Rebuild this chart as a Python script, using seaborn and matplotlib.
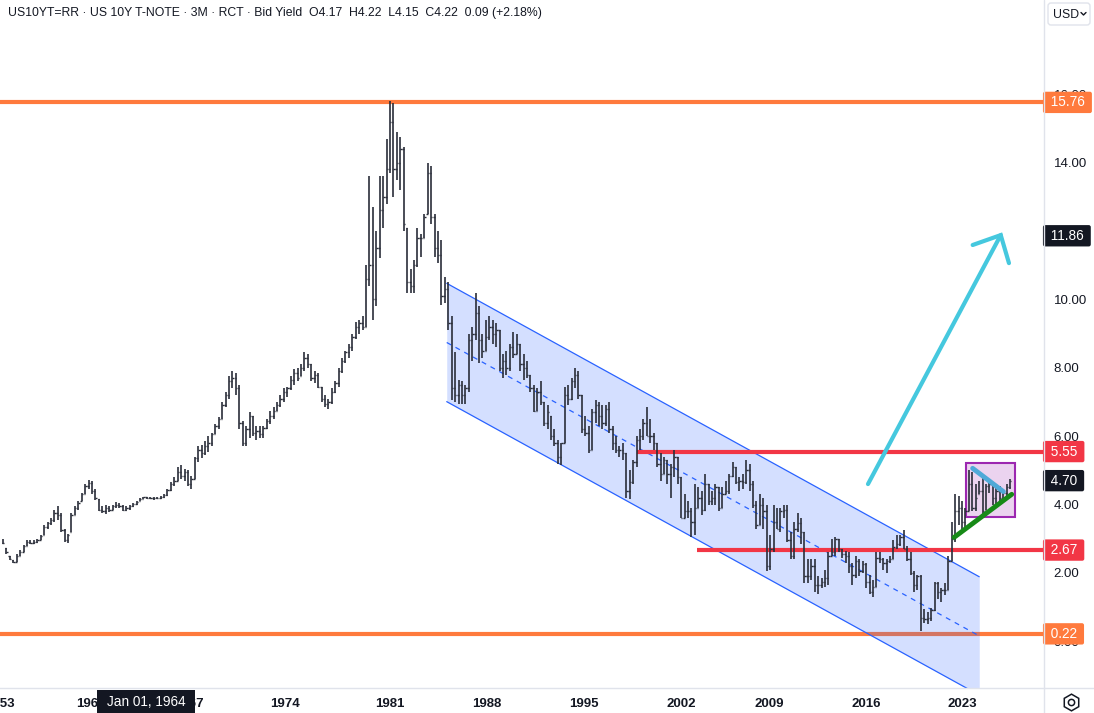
import matplotlib
matplotlib.use("Agg")
import matplotlib.pyplot as plt
import seaborn as sns
import numpy as np
from matplotlib.patches import Rectangle, FancyBboxPatch

# quarterly bars (high / low / close), first bar at 1952.75
start_year = 1952.75
step = 0.25

highs = [
    3.0, 2.72, 2.5, 2.38, 2.55, 2.68, 2.82, 2.96,
    2.95, 2.96, 3.0, 3.12, 3.4, 3.5, 3.6, 3.85,
    3.96, 3.75, 3.3, 3.15, 3.75, 3.95, 4.1, 4.35,
    4.6, 4.72, 4.68, 4.45, 4.15, 3.95, 4.0, 3.95,
    4.0, 4.08, 4.05, 4.0, 3.95, 4.0, 4.05, 4.1,
    4.18, 4.22, 4.22, 4.22, 4.22, 4.23, 4.24, 4.3,
    4.45, 4.65, 4.8, 5.1, 5.15, 5.05, 5.0, 4.85,
    5.4, 5.7, 5.75, 5.85, 6.0, 6.1, 6.35, 6.55,
    7.0, 7.3, 7.75, 7.9, 7.85, 7.5, 6.45, 6.3,
    6.7, 6.6, 6.3, 6.3, 6.3, 6.5, 6.75, 6.85,
    7.0, 7.2, 7.4, 7.45, 7.75, 7.95, 8.0, 8.1,
    8.45, 8.4, 8.1, 7.9, 7.85, 7.45, 7.2, 7.1,
    7.4, 7.6, 8.0, 8.3, 8.5, 8.7, 9.0, 9.35,
    9.4, 9.5, 11.0, 13.6, 12.7, 12.0, 13.6, 13.6,
    14.7, 15.8, 15.75, 14.9, 14.75, 14.45, 12.1, 10.9,
    11.15, 12.1, 11.9, 12.5, 14.0, 13.9, 12.5, 12.0,
    11.75, 10.65, 10.5, 9.5, 8.45, 7.65, 7.6, 7.5,
    9.0, 9.2, 10.2, 9.8, 9.0, 9.4, 9.5, 9.4,
    9.3, 9.1, 8.4, 8.5, 8.7, 9.05, 9.0, 8.7,
    8.4, 8.2, 7.8, 7.5, 7.4, 7.6, 7.0, 6.9,
    6.6, 6.2, 5.9, 5.8, 7.45, 7.5, 7.7, 8.0,
    7.9, 7.2, 6.6, 6.3, 6.8, 7.05, 7.0, 6.9,
    6.9, 7.0, 6.3, 6.0, 5.7, 5.8, 5.5, 5.0,
    5.3, 6.0, 6.2, 6.5, 6.85, 6.5, 6.1, 5.8,
    5.5, 5.4, 5.3, 5.2, 5.6, 5.4, 4.8, 4.3,
    4.1, 3.9, 4.6, 4.5, 4.4, 4.9, 4.6, 4.4,
    4.6, 4.5, 4.5, 4.7, 4.9, 5.25, 5.1, 4.8,
    4.9, 5.3, 5.2, 4.7, 4.1, 4.3, 4.2, 4.0,
    3.1, 4.0, 3.9, 3.9, 4.0, 4.0, 3.2, 3.5,
    3.75, 3.6, 3.2, 2.4, 2.4, 2.4, 1.9, 1.85,
    2.1, 2.6, 3.0, 3.05, 3.0, 2.7, 2.65, 2.6,
    2.3, 2.5, 2.4, 2.35, 2.3, 1.95, 1.8, 2.6,
    2.6, 2.45, 2.4, 2.5, 2.95, 3.1, 3.1, 3.25,
    2.8, 2.6, 2.05, 1.95, 1.95, 0.95, 0.85, 0.98,
    1.75, 1.75, 1.55, 1.7, 2.5, 3.5, 4.3, 4.25,
    4.1, 3.9, 5.0, 4.95, 4.6, 4.7, 4.85, 4.6,
    4.65, 4.6, 4.5, 4.55, 4.45, 4.6, 4.75,
]
lows = [
    2.85, 2.55, 2.38, 2.29, 2.32, 2.5, 2.62, 2.78,
    2.84, 2.84, 2.88, 2.97, 3.1, 3.3, 3.4, 3.5,
    3.55, 3.2, 2.9, 2.88, 3.2, 3.7, 3.85, 4.1,
    4.3, 4.45, 4.3, 4.12, 3.8, 3.75, 3.72, 3.78,
    3.85, 3.9, 3.9, 3.82, 3.8, 3.85, 3.92, 4.0,
    4.1, 4.15, 4.15, 4.15, 4.14, 4.16, 4.17, 4.2,
    4.25, 4.4, 4.55, 4.7, 4.75, 4.7, 4.55, 4.45,
    4.75, 5.25, 5.35, 5.45, 5.55, 5.7, 6.05, 6.2,
    6.5, 6.85, 7.1, 7.4, 7.2, 6.2, 5.7, 5.7,
    5.95, 6.0, 5.9, 5.95, 5.95, 6.2, 6.35, 6.5,
    6.75, 6.85, 7.0, 7.15, 7.35, 7.5, 7.6, 7.75,
    7.9, 8.0, 7.6, 7.55, 7.4, 7.0, 6.85, 6.8,
    6.95, 7.25, 7.45, 7.85, 8.15, 8.3, 8.5, 8.85,
    9.0, 9.1, 9.2, 10.4, 9.4, 9.8, 11.2, 12.1,
    12.8, 13.7, 13.0, 13.5, 13.2, 12.0, 10.2, 10.2,
    10.2, 10.95, 11.25, 11.8, 12.5, 12.2, 11.25, 11.05,
    9.85, 9.9, 9.1, 7.05, 7.0, 6.95, 6.95, 6.95,
    7.3, 8.2, 8.8, 8.15, 8.3, 8.5, 8.8, 8.7,
    8.6, 7.9, 7.7, 7.8, 7.9, 8.3, 8.4, 7.9,
    7.65, 7.7, 7.3, 6.7, 6.75, 6.9, 6.3, 6.2,
    5.9, 5.7, 5.2, 5.15, 5.8, 6.9, 7.05, 7.4,
    7.1, 6.1, 6.0, 5.5, 5.6, 6.4, 6.3, 6.2,
    6.3, 6.1, 5.6, 5.5, 5.4, 5.3, 4.2, 4.15,
    4.6, 5.1, 5.6, 5.9, 6.0, 5.8, 5.6, 5.1,
    4.7, 4.9, 4.6, 4.2, 4.8, 4.6, 3.6, 3.6,
    3.6, 3.05, 3.1, 3.9, 3.7, 3.8, 4.0, 4.0,
    4.0, 3.8, 3.9, 4.3, 4.3, 4.8, 4.6, 4.4,
    4.45, 4.6, 4.4, 3.9, 3.3, 3.4, 3.3, 2.05,
    2.1, 2.6, 3.3, 3.2, 3.6, 2.9, 2.4, 2.4,
    3.2, 2.85, 1.7, 1.7, 1.8, 1.45, 1.4, 1.55,
    1.6, 1.65, 2.5, 2.5, 2.6, 2.45, 2.3, 2.0,
    1.65, 1.85, 1.9, 2.0, 1.55, 1.4, 1.3, 1.6,
    2.3, 2.1, 2.0, 2.3, 2.4, 2.7, 2.8, 2.7,
    2.35, 1.95, 1.45, 1.5, 0.3, 0.55, 0.5, 0.6,
    0.9, 1.25, 1.15, 1.35, 1.5, 2.35, 2.9, 3.4,
    3.3, 3.3, 3.8, 3.8, 3.8, 4.3, 3.7, 3.85,
    4.35, 4.0, 3.95, 4.1, 4.1, 4.2, 4.45,
]
closes = [
    2.88, 2.6, 2.42, 2.33, 2.5, 2.62, 2.78, 2.9,
    2.88, 2.9, 2.97, 3.08, 3.35, 3.45, 3.55, 3.75,
    3.7, 3.25, 2.95, 3.1, 3.7, 3.9, 4.05, 4.3,
    4.55, 4.62, 4.4, 4.2, 3.85, 3.8, 3.9, 3.85,
    3.95, 4.0, 3.95, 3.85, 3.9, 3.95, 4.02, 4.08,
    4.17, 4.22, 4.18, 4.2, 4.2, 4.2, 4.22, 4.28,
    4.42, 4.6, 4.7, 4.95, 4.85, 4.95, 4.6, 4.75,
    5.35, 5.6, 5.5, 5.7, 5.8, 6.05, 6.3, 6.5,
    6.9, 7.2, 7.6, 7.7, 7.4, 6.4, 5.8, 6.2,
    6.6, 6.1, 6.15, 6.05, 6.25, 6.45, 6.6, 6.75,
    6.9, 7.1, 7.3, 7.4, 7.65, 7.85, 7.7, 8.0,
    8.3, 8.1, 7.7, 7.8, 7.45, 7.1, 6.95, 7.0,
    7.3, 7.55, 7.9, 8.2, 8.45, 8.6, 8.9, 9.2,
    9.3, 9.2, 10.6, 11.0, 10.0, 11.5, 12.6, 13.0,
    13.8, 15.2, 13.8, 14.0, 14.4, 12.2, 10.5, 10.4,
    11.0, 11.8, 11.8, 12.4, 13.7, 12.4, 11.5, 11.3,
    10.1, 10.3, 9.3, 7.4, 7.2, 7.5, 7.2, 7.4,
    8.8, 9.0, 9.6, 8.8, 8.5, 8.9, 9.2, 9.0,
    9.1, 8.0, 8.2, 8.0, 8.6, 8.4, 8.7, 8.1,
    8.0, 7.8, 7.4, 6.75, 7.3, 7.0, 6.4, 6.7,
    6.0, 5.8, 5.4, 5.8, 7.2, 7.1, 7.6, 7.8,
    7.2, 6.2, 6.1, 5.6, 6.7, 6.9, 6.6, 6.4,
    6.8, 6.2, 5.8, 5.6, 5.6, 5.5, 4.4, 4.65,
    5.25, 5.9, 6.0, 6.4, 6.0, 6.0, 5.8, 5.2,
    4.9, 5.3, 4.9, 5.1, 5.4, 4.8, 3.6, 3.8,
    3.8, 3.5, 3.9, 4.2, 3.85, 4.6, 4.1, 4.2,
    4.5, 3.9, 4.3, 4.4, 4.85, 5.1, 4.65, 4.7,
    4.65, 5.0, 4.6, 4.0, 3.4, 4.0, 3.8, 2.2,
    2.7, 3.5, 3.3, 3.8, 3.85, 2.95, 2.5, 3.3,
    3.45, 3.2, 1.9, 1.9, 2.2, 1.65, 1.65, 1.75,
    1.85, 2.5, 2.6, 3.0, 2.7, 2.55, 2.5, 2.2,
    1.95, 2.35, 2.05, 2.25, 1.75, 1.45, 1.6, 2.45,
    2.4, 2.3, 2.35, 2.4, 2.75, 2.85, 3.05, 2.7,
    2.4, 2.0, 1.65, 1.9, 0.68, 0.65, 0.68, 0.92,
    1.7, 1.45, 1.5, 1.5, 2.35, 3.0, 3.8, 3.9,
    3.5, 3.8, 4.6, 3.9, 4.2, 4.4, 3.8, 4.55,
    4.6, 4.2, 4.4, 4.2, 4.35, 4.5, 4.7,
]

# horizontal levels
orange_levels = [15.76, 0.22]
red_levels = [5.55, 2.67]
red_starts = [1999.03, 2003.41]

# falling channel
channel_x = [1985.14, 2024.01]
channel_upper = [10.47, 1.89]
channel_lower = [7.01, -1.57]
channel_mid = [8.74, 0.16]

# arrow
arrow_x = [2015.89, 2025.58]
arrow_y = [4.60, 11.88]
arrow_head_x = [2023.53, 2025.58, 2026.18]
arrow_head_y = [11.59, 11.88, 11.06]

# triangle
tri_top_x = [2023.53, 2025.77]
tri_top_y = [5.06, 4.38]
tri_bot_x = [2022.17, 2026.38]
tri_bot_y = [3.04, 4.30]
box_x = [2023.02, 2026.60]
box_y = [3.63, 5.22]

price_labels = ["15.76", "11.86", "5.55", "4.70", "2.67", "0.22"]
price_values = [15.76, 11.86, 5.55, 4.70, 2.67, 0.22]

year_labels = ["1953", "1960", "1967", "1974", "1981", "1988", "1995",
               "2002", "2009", "2016", "2023"]
year_label_px = [0, 91, 189, 285, 390, 487, 584, 681, 769, 866, 962]

title = ("US10YT=RR \u00b7 US 10Y T-NOTE \u00b7 3M \u00b7 RCT \u00b7 Bid Yield  "
         "O4.17  H4.22  L4.15  C4.22  0.09 (+2.18%)")

ORANGE = "#ff7a3d"
RED = "#f23645"
BLUE = "#2962ff"
CYAN = "#45c8de"
INK = "#131722"
BAR = "#2a2e39"
SEP = "#e0e3eb"

sns.set_theme(style="white")
plt.rcParams["font.family"] = ["Liberation Sans", "DejaVu Sans"]

W, H = 1094, 713
fig = plt.figure(figsize=(W / 100, H / 100), dpi=100)
ax = fig.add_axes([0, 25 / H, 1044 / W, 688 / H])

px_per_year = 13.7


def px_to_year(px):
    return 1981 + (px - 390) / px_per_year


ax.set_xlim(px_to_year(0), px_to_year(1044))
ax.set_ylim(-1.363, 18.754)

n = len(highs)
assert len(lows) == n and len(closes) == n
years = start_year + step * np.arange(n)
hi = np.array(highs)
lo = np.array(lows)
cl = np.array(closes)
op = np.clip(np.r_[cl[0], cl[:-1]], lo, hi)

# levels
for lv in orange_levels:
    ax.axhline(lv, color=ORANGE, lw=3, zorder=1, solid_capstyle="butt")
for lv, x0 in zip(red_levels, red_starts):
    ax.hlines(lv, x0, px_to_year(1044), color=RED, lw=3, zorder=3)

# channel
ax.fill_between(channel_x, channel_upper, channel_lower, color=BLUE,
                alpha=0.2, lw=0, zorder=2)
sns.lineplot(x=channel_x, y=channel_upper, ax=ax, color=BLUE, lw=0.9, zorder=2.5)
sns.lineplot(x=channel_x, y=channel_lower, ax=ax, color=BLUE, lw=0.9, zorder=2.5)
sns.lineplot(x=channel_x, y=channel_mid, ax=ax, color=BLUE, lw=0.9,
             linestyle=(0, (4, 4)), zorder=2.5)

# triangle box
ax.add_patch(Rectangle((box_x[0], box_y[0]), box_x[1] - box_x[0],
                       box_y[1] - box_y[0], fc="#9c27b0", alpha=0.2,
                       ec="none", zorder=3))
ax.add_patch(Rectangle((box_x[0], box_y[0]), box_x[1] - box_x[0],
                       box_y[1] - box_y[0], fc="none", ec="#9c27b0",
                       lw=1.5, zorder=3))

# bars
ax.vlines(years, lo, hi, color=BAR, lw=1.2, zorder=4)
ax.hlines(op, years - 0.1, years, color=BAR, lw=1, zorder=4)
ax.hlines(cl, years, years + 0.1, color=BAR, lw=1, zorder=4)

# trend lines and arrow
sns.lineplot(x=tri_top_x, y=tri_top_y, ax=ax, color="#4fa9d8", lw=3.5,
             zorder=5, solid_capstyle="round")
sns.lineplot(x=tri_bot_x, y=tri_bot_y, ax=ax, color="#178a17", lw=3.5,
             zorder=5, solid_capstyle="round")
ax.plot(arrow_x, arrow_y, color=CYAN, lw=3, zorder=5, solid_capstyle="round")
ax.plot(arrow_head_x, arrow_head_y, color=CYAN, lw=3, zorder=5,
        solid_capstyle="round", solid_joinstyle="miter")

# axes styling
for s in ["top", "left", "right"]:
    ax.spines[s].set_visible(False)
ax.spines["bottom"].set_color(SEP)
ax.spines["bottom"].set_linewidth(1)
ax.grid(False)

ax.yaxis.tick_right()
ax.set_yticks(np.arange(0, 17, 2))
ax.set_yticklabels([f"{v:.2f}" for v in np.arange(0, 17, 2)])
ax.tick_params(axis="y", length=0, pad=7, labelsize=9.5, labelcolor=INK)

ax.set_xticks([px_to_year(p) for p in year_label_px])
ax.set_xticklabels(year_labels, fontweight="bold")
ax.tick_params(axis="x", length=0, pad=7, labelsize=9.5, labelcolor=INK)
ax.set_xlabel("")
ax.set_ylabel("")

# price labels on the scale (spaces give the wider horizontal padding)
label_colors = [ORANGE, INK, RED, INK, RED, ORANGE]
for txt, val, c in zip(price_labels, price_values, label_colors):
    ax.text(1.0025, val, " " + txt + " ", transform=ax.get_yaxis_transform(),
            ha="left", va="center", color="white", fontsize=9.8, clip_on=False,
            zorder=10,
            bbox=dict(boxstyle="round,pad=0.27,rounding_size=0.15", fc=c, ec="none"))

# overlay in pixel units for chrome
oax = fig.add_axes([0, 0, 1, 1], zorder=20)
oax.set_xlim(0, W)
oax.set_ylim(H, 0)
oax.axis("off")
oax.patch.set_alpha(0)
oax.plot([1044, 1044], [0, H], color=SEP, lw=1)
oax.plot([1044, W], [688, 688], color=SEP, lw=1)

# crosshair date label
oax.add_patch(Rectangle((97, 690), 98, 24, fc=INK, ec="none"))
oax.text(146, 702, "Jan 01, 1964", ha="center", va="center", color="white",
         fontsize=9.8)

oax.add_patch(FancyBboxPatch((1048, 3), 42, 22,
                             boxstyle="round,pad=0,rounding_size=3",
                             ec=SEP, fc="white", lw=1))
oax.text(1053, 14.5, "USD", fontsize=8.8, color=INK, va="center", ha="left")
oax.plot([1081, 1083.5, 1086], [12.5, 15, 12.5], color=INK, lw=1)
oax.plot(1071, 702, marker="h", ms=12, mfc="none", mec=INK, mew=1.1)
oax.plot(1071, 702, marker="o", ms=4.5, mfc="none", mec=INK, mew=1.1)

fig.text(8 / W, 1 - 13 / H, title, fontsize=8.8, color=INK, va="center", ha="left")

fig.savefig("out.png", dpi=100)
